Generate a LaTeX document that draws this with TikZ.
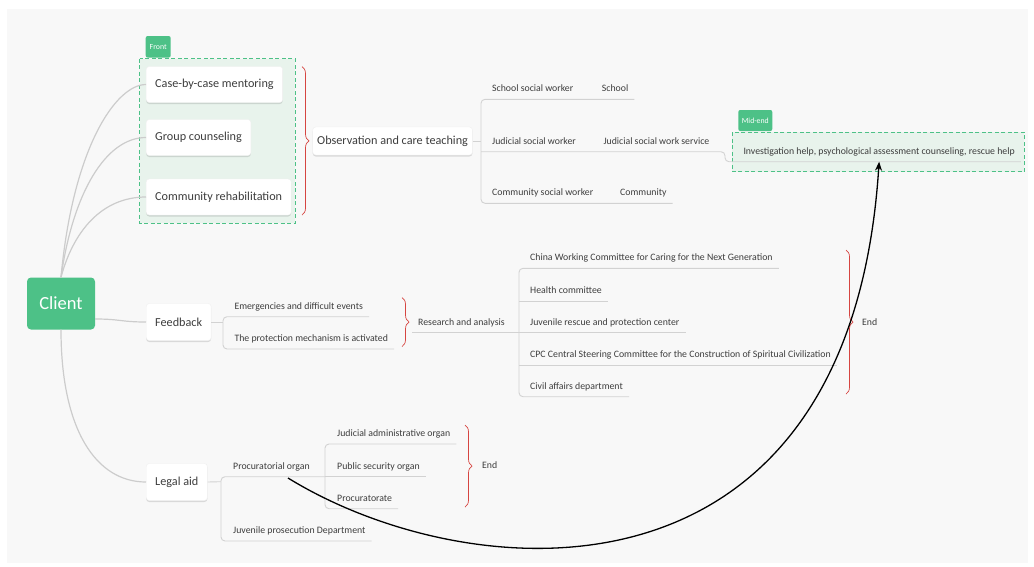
\documentclass[tikz,border=0pt]{standalone}
\usepackage{fontspec}
\setmainfont{Carlito}
\usetikzlibrary{decorations.pathreplacing,shadows,arrows.meta}

\definecolor{xmGreen}{HTML}{4DC187}
\definecolor{groupGreen}{HTML}{E8F3EC}
\definecolor{lineGray}{HTML}{CCCCCC}
\definecolor{ulGray}{HTML}{D2D2D2}
\definecolor{txtGray}{HTML}{3D3D3D}
\definecolor{bgGray}{HTML}{F8F8F8}
\definecolor{braceRed}{HTML}{D64541}

\begin{document}
\begin{tikzpicture}[x=1pt, y=-1pt,
	topic/.style={anchor=west, draw=black!6, fill=white, rounded corners=3pt, minimum height=36pt, inner xsep=9pt, text=txtGray, font=\fontsize{12.2}{14}\selectfont, drop shadow={shadow xshift=0pt, shadow yshift=-1.5pt, opacity=0.12, fill=black}},
	leaf/.style={anchor=south west, inner xsep=6pt, inner ysep=0pt, text depth=7.5pt, text=txtGray, font=\fontsize{9.8}{11}\selectfont},
	line/.style={draw=lineGray, line width=1.2pt},
	uline/.style={draw=ulGray, line width=0.9pt, rounded corners=4pt},
	brace/.style={draw=braceRed, line width=0.7pt, decorate, decoration={brace, amplitude=7pt}},
	group/.style={draw=xmGreen, fill=groupGreen, line width=1pt, dash pattern=on 4pt off 2.5pt},
	tag/.style={fill=xmGreen, text=white, rounded corners=2pt, inner sep=0pt, font=\fontsize{7.8}{8}\selectfont}
]
	\useasboundingbox (0,0) rectangle (1034,566);
	\fill[white] (0,0) rectangle (1034,566);
	\fill[bgGray] (7,9) rectangle (1028,563);
	
	% groups
	\draw[group] (139.5,58.5) rectangle (295,223);
	\node[tag, minimum width=25pt, minimum height=21.5pt] (frontTag) at (158.2,46.8) {Front};
	\draw[group] (732,132.3) rectangle (1024.3,171.7);
	\node[tag, minimum width=34pt, minimum height=21pt] (midTag) at (755.3,120.5) {Mid-end};
	
	% root and main topics
	\node[fill=xmGreen, rounded corners=4pt, minimum width=68pt, minimum height=52pt, text=white, font=\fontsize{18.5}{20}\selectfont] (client) at (61,303.5) {Client};
	\node[topic] (case) at (146,84.5) {Case-by-case mentoring};
	\node[topic] (group) at (146,137.5) {Group counseling};
	\node[topic] (comm) at (146,197) {Community rehabilitation};
	\node[topic, minimum height=28pt, inner xsep=4.5pt] (obs) at (312.5,141) {Observation and care teaching};
	\node[topic, minimum height=37pt] (fb) at (146,322) {Feedback};
	\node[topic, minimum height=37pt] (legal) at (146,482) {Legal aid};
	
	\foreach \t/\a/\b in {case/130/30, group/85/40, comm/45/45}{
		\draw[line] (client.north) .. controls +(12,-\a) and +(-\b,0) .. (\t.west);
	}
	\draw[line] ([yshift=-15.5pt]client.east) .. controls +(25,0) and +(-25,0) .. (fb.west);
	\draw[line] (client.south) .. controls +(0,100) and +(-50,0) .. (legal.west);
	
	% front
	\draw[brace] (302,66.7) -- (302,215);
	
	% observation branch
	\coordinate (oj) at (481,141);
	\coordinate (mj) at (725,151.7);
	\node[leaf] (ssw) at (486,99.3) {School social worker};
	\node[leaf] (school) at (595.7,99.3) {School};
	\node[leaf] (jsw) at (486,151.7) {Judicial social worker};
	\node[leaf] (jsws) at (597.3,151.7) {Judicial social work service};
	\node[leaf] (csw) at (486,203.3) {Community social worker};
	\node[leaf] (community) at (614,203.3) {Community};
	\node[leaf] (midtxt) at (737.3,161.7) {Investigation help, psychological assessment counseling, rescue help};
	\draw[uline] (obs.east) -- (oj);
	\draw[uline] (school.south east) -- (oj |- ssw.south) -- (oj |- csw.south) -- (community.south east);
	\draw[uline] (oj |- jsw.south) -- (mj) |- (midtxt.south east);
	
	% feedback branch
	\coordinate (fj) at (223,322);
	\node[leaf] (emerg) at (228.3,316.7) {Emergencies and difficult events};
	\node[leaf] (prot) at (228.3,349) {The protection mechanism is activated};
	\draw[uline] (fb.east) -- (fj);
	\draw[uline] (emerg.south east) -- (fj |- emerg.south) -- (fj |- prot.south) -- (prot.south east);
	\draw[brace] (402,297.5) -- (402,346.5);
	
	\coordinate (rj) at (519,332.7);
	\node[leaf] (research) at (412,332.7) {Research and analysis};
	\node[leaf] (china) at (524,268.3) {China Working Committee for Caring for the Next Generation};
	\node[leaf] (health) at (524,301) {Health committee};
	\node[leaf] (juv) at (524,332.7) {Juvenile rescue and protection center};
	\node[leaf] (cpc) at (524,365.3) {CPC Central Steering Committee for the Construction of Spiritual Civilization};
	\node[leaf] (civil) at (524,396.7) {Civil affairs department};
	\draw[uline] (research.south west) -- (rj);
	\draw[uline] (china.south east) -- (rj |- china.south) -- (rj |- civil.south) -- (civil.south east);
	\foreach \n in {health,juv,cpc}{
		\draw[uline] (rj |- \n.south) -- (\n.south east);
	}
	\draw[brace] (846,250) -- (846,394);
	\node[leaf, anchor=west, text depth=0pt, inner xsep=0pt] (end1) at (862,322) {End};
	
	% legal aid branch
	\coordinate (lj) at (221,481.7);
	\coordinate (pj) at (325,476.7);
	\node[leaf] (proc) at (227,476.7) {Procuratorial organ};
	\node[leaf] (jpd) at (227,541) {Juvenile prosecution Department};
	\node[leaf] (jao) at (331,444) {Judicial administrative organ};
	\node[leaf] (pso) at (331,476.7) {Public security organ};
	\node[leaf] (procu) at (331,508.7) {Procuratorate};
	\draw[uline] (legal.east) -- (lj);
	\draw[uline] (pj) -- (lj |- proc.south) -- (lj |- jpd.south) -- (jpd.south east);
	\draw[uline] (jao.south east) -- (pj |- jao.south) -- (pj |- procu.south) -- (procu.south east);
	\draw[uline] (pj) -- (pso.south east);
	\draw[brace] (465,425) -- (465,507);
	\node[leaf, anchor=west, text depth=0pt, inner xsep=0pt] (end2) at (482,465) {End};
	
	% cross link
	\coordinate (procArrow) at (288,478);
	\draw[line width=1.3pt, -{Stealth[length=9pt, width=7pt]}] (procArrow) .. controls (470,590) and (850,620) .. (midtxt.south);
\end{tikzpicture}
\end{document}
